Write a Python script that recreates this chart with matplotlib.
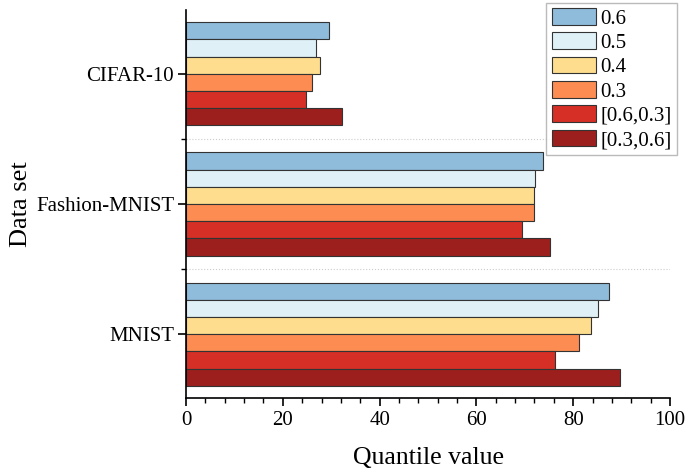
import numpy as np
import matplotlib
matplotlib.use('Agg')
import matplotlib.pyplot as plt
from matplotlib.ticker import MultipleLocator, FixedLocator

plt.rcParams['font.family'] = ['Liberation Serif', 'DejaVu Serif']

datasets = ['MNIST', 'Fashion-MNIST', 'CIFAR-10']
labels = ['0.6', '0.5', '0.4', '0.3', '[0.6,0.3]', '[0.3,0.6]']
colors = ['#8fbcdb', '#dff1f7', '#fede8e', '#fc8c52', '#d62f26', '#9c1f1d']

# values per series, in order MNIST, Fashion-MNIST, CIFAR-10
q06 = [87.4, 73.8, 29.6]
q05 = [85.1, 72.2, 26.9]
q04 = [83.6, 72.0, 27.7]
q03 = [81.1, 71.8, 26.0]
q0603 = [76.3, 69.5, 24.7]
q0306 = [89.7, 75.3, 32.3]
series = [q06, q05, q04, q03, q0603, q0306]

fig = plt.figure(figsize=(6.86, 4.75), dpi=100)
ax = fig.add_axes([186/686, 1-398/475, 484/686, 388/475])

y = np.arange(len(datasets))
h = 0.132
offsets = [2.5*h, 1.5*h, 0.5*h, -0.5*h, -1.5*h, -2.5*h]
for vals, off, c, lab in zip(series, offsets, colors, labels):
    ax.barh(y + off, vals, height=h, color=c, edgecolor='#333333', linewidth=0.8, label=lab)

for s in [0.5, 1.5]:
    ax.axhline(s, ls=':', color='#cccccc', lw=0.8, zorder=0)

ax.set_xlim(0, 100)
ax.set_ylim(-0.49, 2.49)
ax.xaxis.set_major_locator(MultipleLocator(20))
ax.xaxis.set_minor_locator(MultipleLocator(4))
ax.set_yticks(y)
ax.set_yticklabels(datasets)
ax.yaxis.set_minor_locator(FixedLocator([0.5, 1.5, 2.5]))
ax.tick_params(axis='both', which='major', labelsize=15, length=6, width=1.2, direction='out')
ax.tick_params(axis='both', which='minor', length=3.5, width=1.0, direction='out')
ax.tick_params(axis='y', which='major', pad=2.5)
ax.spines['top'].set_visible(False)
ax.spines['right'].set_visible(False)
ax.spines['left'].set_linewidth(1.2)
ax.spines['bottom'].set_linewidth(1.2)

ax.set_xlabel('Quantile value', fontsize=18.5, labelpad=12)
ax.set_ylabel('Data set', fontsize=19, labelpad=3)

fig.legend(loc='upper right', bbox_to_anchor=(677/686, 1-3/475), fontsize=15,
           frameon=True, fancybox=False, edgecolor='#aaaaaa', handlelength=2.15,
           handleheight=0.85, labelspacing=0.18, borderpad=0.25, handletextpad=0.2,
           borderaxespad=0)

fig.savefig('out.png', dpi=100)
